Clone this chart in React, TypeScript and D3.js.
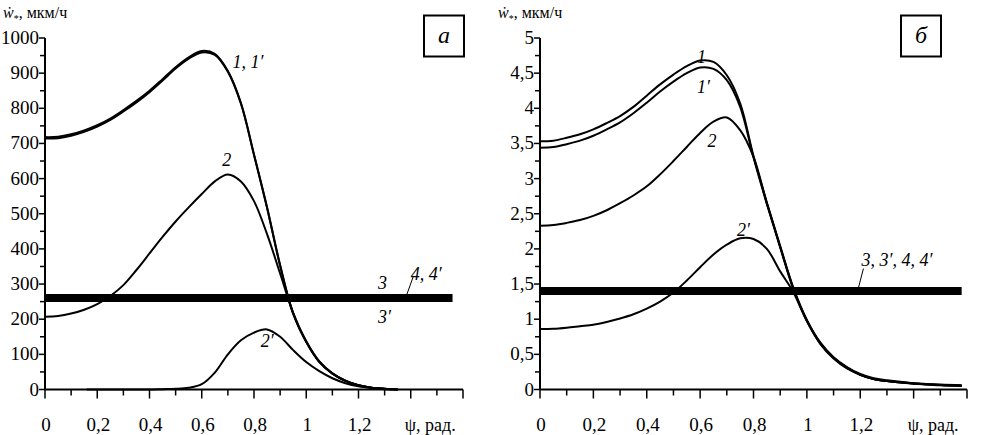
import React, { useEffect } from "react";
import * as d3 from "d3";

// panel "а" — values in мкм/ч
const psiA = [0, 0.05, 0.1, 0.15, 0.2, 0.25, 0.3, 0.35, 0.4, 0.45, 0.5, 0.55, 0.6, 0.65, 0.7, 0.75, 0.8, 0.85, 0.9, 0.95, 1.0, 1.05, 1.1, 1.15, 1.2, 1.25, 1.3, 1.35];
const curve1A = [718, 719, 726, 737, 752, 771, 795, 821, 850, 883, 917, 945, 963, 955, 906, 815, 668, 517, 352, 215, 135, 78, 45, 24, 12, 5, 2, 0];
const curve1pA = [714, 715, 722, 733, 748, 767, 791, 817, 846, 879, 913, 941, 959, 952, 904, 813, 668, 518, 354, 217, 136, 79, 46, 25, 12, 5, 2, 0];
const curve2A = [207, 209, 216, 227, 243, 266, 297, 340, 387, 434, 478, 518, 556, 592, 612, 592, 536, 442, 330, 218, 137, 80, 46, 25, 12, 5, 2, 0];
const psi2pA = [0.16, 0.3, 0.4, 0.45, 0.5, 0.55, 0.6, 0.65, 0.7, 0.75, 0.8, 0.85, 0.9, 0.95, 1.0, 1.05, 1.1, 1.15, 1.2, 1.25, 1.3, 1.35];
const curve2pA = [0, 0, 0, 1, 2, 5, 15, 48, 100, 140, 162, 171, 150, 112, 78, 52, 32, 18, 9, 4, 1, 0];
const levelA = 260; // curves 3, 3', 4, 4'
const levelEndA = 1.56;

// panel "б"
const psiB = [0, 0.05, 0.1, 0.15, 0.2, 0.25, 0.3, 0.35, 0.4, 0.45, 0.5, 0.55, 0.6, 0.65, 0.7, 0.75, 0.8, 0.85, 0.9, 0.95, 1.0, 1.05, 1.1, 1.15, 1.2, 1.25, 1.3, 1.4, 1.5, 1.58];
const curve1B = [3.53, 3.54, 3.58, 3.63, 3.7, 3.79, 3.89, 4.02, 4.18, 4.34, 4.48, 4.6, 4.68, 4.66, 4.47, 4.07, 3.32, 2.66, 2.04, 1.44, 0.99, 0.67, 0.46, 0.32, 0.22, 0.16, 0.13, 0.09, 0.07, 0.06];
const curve1pB = [3.44, 3.45, 3.49, 3.54, 3.61, 3.7, 3.8, 3.93, 4.08, 4.24, 4.38, 4.5, 4.58, 4.56, 4.4, 4.02, 3.3, 2.64, 2.02, 1.42, 0.98, 0.66, 0.45, 0.31, 0.21, 0.15, 0.12, 0.085, 0.065, 0.055];
const curve2B = [2.33, 2.34, 2.37, 2.41, 2.47, 2.55, 2.65, 2.76, 2.89, 3.06, 3.25, 3.45, 3.65, 3.81, 3.87, 3.69, 3.31, 2.65, 2.03, 1.43, 0.98, 0.66, 0.45, 0.31, 0.21, 0.15, 0.12, 0.085, 0.065, 0.055];
const curve2pB = [0.86, 0.865, 0.88, 0.9, 0.92, 0.96, 1.01, 1.07, 1.15, 1.25, 1.38, 1.55, 1.74, 1.92, 2.06, 2.15, 2.14, 2.0, 1.68, 1.38, 0.97, 0.65, 0.44, 0.3, 0.21, 0.15, 0.12, 0.08, 0.06, 0.05];
const levelB = 1.4;
const levelEndB = 1.58;

const xTickLabels = ["0", "0,2", "0,4", "0,6", "0,8", "1", "1,2"];
const yTicksA = [0, 100, 200, 300, 400, 500, 600, 700, 800, 900, 1000];
const yTicksB = [0, 0.5, 1, 1.5, 2, 2.5, 3, 3.5, 4, 4.5, 5];

const FONT = '"Liberation Serif"';

type Label = { text: string; psi: number; v: number };

interface PanelDef {
  left: number;
  right: number;
  yMax: number;
  yMinor: number;
  yTicks: number[];
  fmt: (v: number) => string;
  series: { psi: number[]; v: number[] }[];
  level: number;
  levelEnd: number;
  labels: Label[];
  leader: [number, number, number, number];
  letter: string;
  box: [number, number];
}

const panels: PanelDef[] = [
  {
    left: 45,
    right: 463,
    yMax: 1000,
    yMinor: 50,
    yTicks: yTicksA,
    fmt: (v) => String(v),
    series: [
      { psi: psiA, v: curve1A },
      { psi: psiA, v: curve1pA },
      { psi: psiA, v: curve2A },
      { psi: psi2pA, v: curve2pA },
    ],
    level: levelA,
    levelEnd: levelEndA,
    labels: [
      { text: "1, 1′", psi: 0.718, v: 915 },
      { text: "2", psi: 0.678, v: 635 },
      { text: "2′", psi: 0.826, v: 120 },
      { text: "3", psi: 1.275, v: 287 },
      { text: "3′", psi: 1.275, v: 190 },
      { text: "4, 4′", psi: 1.4, v: 312 },
    ],
    leader: [1.38, levelA, 1.41, 322],
    letter: "а",
    box: [424, 464],
  },
  {
    left: 540,
    right: 967,
    yMax: 5,
    yMinor: 0.25,
    yTicks: yTicksB,
    fmt: (v) => String(v).replace(".", ","),
    series: [
      { psi: psiB, v: curve1B },
      { psi: psiB, v: curve1pB },
      { psi: psiB, v: curve2B },
      { psi: psiB, v: curve2pB },
    ],
    level: levelB,
    levelEnd: levelEndB,
    labels: [
      { text: "1", psi: 0.588, v: 4.65 },
      { text: "1′", psi: 0.588, v: 4.22 },
      { text: "2", psi: 0.628, v: 3.45 },
      { text: "2′", psi: 0.738, v: 2.19 },
      { text: "3, 3′, 4, 4′", psi: 1.205, v: 1.76 },
    ],
    leader: [1.19, levelB, 1.212, 1.72],
    letter: "б",
    box: [901, 941],
  },
];

const TOP = 38;
const BOTTOM = 389.5;

function Panel({ p }: { p: PanelDef }) {
  const x = d3.scaleLinear().domain([0, 1.6]).range([p.left, p.right]);
  const y = d3.scaleLinear().domain([0, p.yMax]).range([BOTTOM, TOP]);
  const line = d3
    .line<[number, number]>()
    .x((d) => x(d[0]))
    .y((d) => y(d[1]))
    .curve(d3.curveCatmullRom.alpha(0.5));
  const yMinorTicks = d3.range(0, p.yMax + p.yMinor / 2, p.yMinor);
  const [a0, b0, a1, b1] = p.leader;
  const tf = { fontFamily: FONT };

  return (
    <g>
      <text x={p.left - 42} y={18} fontSize={16} style={tf}>
        <tspan fontStyle="italic">ẇ</tspan>
        <tspan fontSize={10} dy={4}>*</tspan>
        <tspan dy={-4}>, мкм/ч</tspan>
      </text>

      {/* curves 3, 3', 4, 4' */}
      <line x1={x(0)} x2={x(p.levelEnd)} y1={y(p.level)} y2={y(p.level)} stroke="#000" strokeWidth={8} />

      {p.series.map((s, k) => (
        <path
          key={k}
          d={line(s.psi.map((ps, i) => [ps, s.v[i]] as [number, number])) || ""}
          fill="none"
          stroke="#000"
          strokeWidth={2}
        />
      ))}

      <line x1={p.left} x2={p.left} y1={TOP} y2={BOTTOM} stroke="#000" strokeWidth={2} />
      <line x1={p.left} x2={p.right} y1={BOTTOM} y2={BOTTOM} stroke="#000" strokeWidth={2} />

      {yMinorTicks.map((v, i) => (
        <line key={i} x1={p.left - (i % 2 === 0 ? 6 : 5)} x2={p.left} y1={y(v)} y2={y(v)} stroke="#000" strokeWidth={1.5} />
      ))}
      {p.yTicks.map((v) => (
        <text key={v} x={p.left - 6} y={y(v) + 6} textAnchor="end" fontSize={19} style={tf}>
          {p.fmt(v)}
        </text>
      ))}

      {d3.range(0, 17).map((i) => (
        <line key={i} x1={x(i / 10)} x2={x(i / 10)} y1={BOTTOM} y2={BOTTOM + (i % 2 === 0 ? 9 : 6)} stroke="#000" strokeWidth={1.5} />
      ))}
      {xTickLabels.map((t, i) => (
        <text key={t} x={x(i * 0.2) + 1} y={431} textAnchor="middle" fontSize={19} style={tf}>
          {t}
        </text>
      ))}
      <text x={x(1.4) - 6} y={431} fontSize={18} style={tf}>
        ψ, рад.
      </text>

      {p.labels.map((l) => (
        <text key={l.text} x={x(l.psi)} y={y(l.v)} fontStyle="italic" fontSize={18} style={tf}>
          {l.text}
        </text>
      ))}
      <line x1={x(a0)} y1={y(b0)} x2={x(a1)} y2={y(b1)} stroke="#000" strokeWidth={1} />

      <rect x={p.box[0]} y={15.5} width={p.box[1] - p.box[0]} height={41} fill="none" stroke="#000" strokeWidth={2} />
      <text x={(p.box[0] + p.box[1]) / 2} y={43} textAnchor="middle" fontStyle="italic" fontSize={24} style={tf}>
        {p.letter}
      </text>
    </g>
  );
}

export default function App() {
  useEffect(() => {
    document.body.style.margin = "0";
  }, []);

  return (
    <svg width={981} height={435} style={{ display: "block", background: "#fff" }}>
      {panels.map((p) => (
        <Panel key={p.letter} p={p} />
      ))}
    </svg>
  );
}
